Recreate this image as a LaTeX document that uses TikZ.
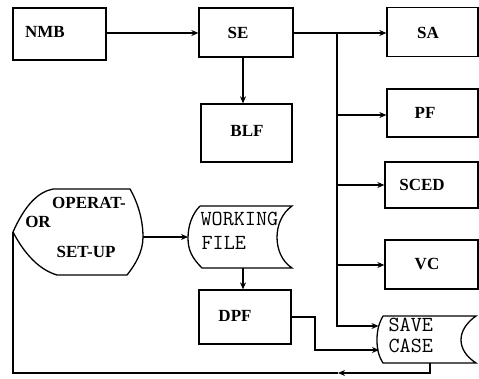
\documentclass[tikz,border=0pt]{standalone}
\usepackage{fontspec}
\setmainfont{Liberation Serif}
\usetikzlibrary{arrows.meta}
\begin{document}
\begin{tikzpicture}[x=1pt,y=-1pt,
  line width=1.3pt,
  box/.style={draw,rectangle,inner sep=0pt},
  lbl/.style={font=\fontsize{17}{19}\selectfont\bfseries,inner sep=0pt},
  mlbl/.style={font=\fontsize{21.5}{22}\selectfont\ttfamily,inner sep=0pt,anchor=west},
  arr/.style={-{Stealth[length=7pt,width=6pt]}}]
\useasboundingbox (0,0) rectangle (479,378);
% rectangles
\node[box,minimum width=93pt,minimum height=52pt] (nmb) at (59.5,34) {};
\node[box,minimum width=94pt,minimum height=49pt] (se) at (246,32.5) {};
\node[box,minimum width=91pt,minimum height=58pt] (blf) at (246.5,133) {};
\node[box,minimum width=91pt,minimum height=49pt] (sa) at (432.5,32) {};
\node[box,minimum width=91pt,minimum height=48pt] (pf) at (432.5,113) {};
\node[box,minimum width=93pt,minimum height=46pt] (sced) at (431.5,185) {};
\node[box,minimum width=93pt,minimum height=49pt] (vc) at (431.5,264.5) {};
\node[box,minimum width=92pt,minimum height=54pt] (dpf) at (245,317) {};
% labels
\node[lbl] (tnmb) at (45,32) {NMB};
\node[lbl] (tse) at (238,33) {SE};
\node[lbl] (tblf) at (247,131) {BLF};
\node[lbl] (tsa) at (428,33) {SA};
\node[lbl] (tpf) at (425,113) {PF};
\node[lbl] (tsced) at (422,185) {SCED};
\node[lbl] (tvc) at (427,264) {VC};
\node[lbl] (tdpf) at (235,316) {DPF};
% operator set-up (display shape)
\draw (53,189) -- (130,189)
  .. controls (138,203) and (143,220) .. (143,237)
  .. controls (143,252) and (135,265) .. (127,275)
  -- (57,275)
  .. controls (40,270) and (25,255) .. (13,232)
  .. controls (25,205) and (38,192) .. (53,189);
\coordinate (opE) at (143,237);
\coordinate (opW) at (13,232);
\node[lbl] (top1) at (89,203) {OPERAT-};
\node[lbl] (top2) at (38,222) {OR};
\node[lbl] (top3) at (86,252) {SET-UP};
% working file
\draw (200,206) -- (292,206)
  .. controls (272,220) and (272,255) .. (292,268)
  -- (202,268)
  .. controls (192,258) and (188,250) .. (188,238)
  .. controls (188,226) and (192,214) .. (200,206);
\coordinate (wfW) at (188,237);
\coordinate (wfS) at (243,268);
\node[mlbl] (twf1) at (200,219) {WORKING};
\node[mlbl] (twf2) at (201,243) {FILE};
% save case
\draw (383,316) -- (476,316)
  .. controls (456,330) and (456,350) .. (476,363)
  -- (383,363)
  .. controls (378,355) and (377,348) .. (377,340)
  .. controls (377,332) and (378,325) .. (383,316);
\coordinate (scA) at (378.5,326);
\coordinate (scB) at (379,350);
\coordinate (scS) at (430,363);
\node[mlbl] (tsc1) at (388,325) {SAVE};
\node[mlbl] (tsc2) at (388,346) {CASE};
% connectors
\coordinate (j0) at (337,33);
\coordinate (j4) at (337,326);
\coordinate (d1) at (315,317);
\coordinate (d2) at (315,350);
\coordinate (b1) at (430,373);
\coordinate (bm) at (338,373);
\coordinate (b2) at (13,373);
\draw[arr] (nmb.east |- j0) -- (se.west |- j0);
\draw[arr] (se.south -| wfS) -- (blf.north -| wfS);
\draw[arr] (se.east |- j0) -- (sa.west |- j0);
\draw[arr] (j0) -- (j4) -- (scA);
\draw[arr] (337,115) -- (pf.west |- 0,115);
\draw[arr] (337,185) -- (sced.west);
\draw[arr] (337,265) -- (vc.west |- 0,265);
\draw[arr] (opE) -- (wfW);
\draw[arr] (wfS) -- (dpf.north -| wfS);
\draw[arr] (dpf.east |- d1) -- (d1) -- (d2) -- (scB);
\draw[arr] (scS) -- (b1) -- (bm);
\draw (bm) -- (b2) -- (opW);
\end{tikzpicture}
\end{document}
